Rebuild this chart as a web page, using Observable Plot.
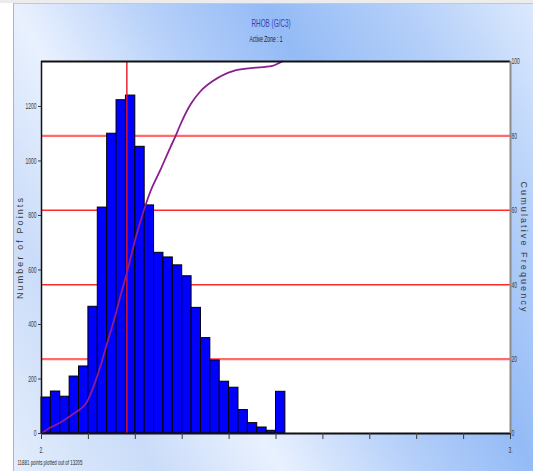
<!DOCTYPE html>
<html>
<head>
<meta charset="utf-8">
<script src="https://cdn.jsdelivr.net/npm/d3@7"></script>
<script src="https://cdn.jsdelivr.net/npm/@observablehq/plot@0.6"></script>
<style>
  body { margin: 0; background: #ffffff; }
  #topstrip { position: absolute; left: 0; top: 0; width: 533px; height: 3px; background: #ececec; }
  #panel {
    position: absolute; left: 13px; top: 3px; width: 520px; height: 468px;
    border-left: 1px solid #a9b6c9; border-top: 1px solid #c4c8cf;
    background: linear-gradient(60deg, #e3edfc 0%, #cadcf9 18%, #e9f1fe 34%, #b3cef9 52%, #94bbf6 66%, #b5d0f9 84%, #dce9fd 100%);
  }
  #chart { position: absolute; left: 0; top: 0; }
</style>
</head>
<body>
<div id="topstrip"></div>
<div id="panel"></div>
<div id="chart"></div>
<script>
// Histogram of bulk density (RHOB), bins of 0.02 g/cc
const binStart = [2.00, 2.02, 2.04, 2.06, 2.08, 2.10, 2.12, 2.14, 2.16, 2.18, 2.20, 2.22, 2.24,
                  2.26, 2.28, 2.30, 2.32, 2.34, 2.36, 2.38, 2.40, 2.42, 2.44, 2.46, 2.48, 2.50];
const BIN_WIDTH = 0.02;
const counts = [132, 154, 135, 209, 246, 465, 829, 1100, 1223, 1240, 1052, 837, 663,
                646, 617, 577, 461, 350, 268, 190, 168, 86, 38, 22, 10, 153];

// Cumulative frequency curve (percent)
const cumX = [2.000, 2.019, 2.041, 2.062, 2.083, 2.094, 2.104, 2.115, 2.126, 2.136, 2.147, 2.158,
              2.168, 2.179, 2.190, 2.200, 2.218, 2.232, 2.254, 2.275, 2.286, 2.296, 2.318, 2.339,
              2.367, 2.410, 2.446, 2.492, 2.508, 2.513];
const cumPct = [0, 1.6, 3.0, 4.8, 6.6, 7.9, 10.4, 14.0, 18.2, 22.6, 27.2, 32.0,
                36.8, 41.8, 47.2, 52.2, 59.9, 65.0, 71.0, 77.0, 80.0, 83.0, 88.5, 92.0,
                94.9, 97.5, 98.2, 98.8, 99.7, 100];

// Reference value marker and gridlines
const markerX = [2.182];
const pctGrid = [20, 40, 60, 80];

// Axis ticks
const countTicks = [0, 200, 400, 600, 800, 1000, 1200];
const pctTicks = [0, 20, 40, 60, 80, 100];
const xTicks = [2.0, 2.1, 2.2, 2.3, 2.4, 2.5, 2.6, 2.7, 2.8, 2.9, 3.0];
const xTickLabels = {2: "2.", 3: "3."};

const titleText = "RHOB (G/C3)";
const subtitleText = "Active Zone : 1";
const captionText = "11881 points plotted out of 13205";
const leftLabel = "Number of Points";
const rightLabel = "Cumulative Frequency";

const YMAX = 1365;
const pctToCount = p => p / 100 * YMAX;

const bins = binStart.map((x0, i) => ({x1: x0, x2: x0 + BIN_WIDTH, n: counts[i]}));
const curve = cumX.map((x, i) => ({x, y: pctToCount(cumPct[i])}));

const svg = Plot.plot({
  width: 533,
  height: 471,
  marginLeft: 41,
  marginRight: 23,
  marginTop: 61,
  marginBottom: 38,
  x: {domain: [2, 3]},
  y: {domain: [0, YMAX]},
  style: {background: "transparent", fontFamily: "Arial, 'Liberation Sans', sans-serif", fontSize: "9px", color: "#3a3a3a"},
  marks: [
    Plot.frame({fill: "white", stroke: null}),
    Plot.ruleY(pctGrid.filter(p => p === 20 || p === 80), {y: pctToCount, stroke: "#ff6a6a", strokeWidth: 2.2}),
    Plot.ruleY(pctGrid.filter(p => p === 40 || p === 60), {y: pctToCount, stroke: "#ff2a2a", strokeWidth: 1.5}),
    Plot.rectY(bins, {x1: "x1", x2: "x2", y: "n", fill: "#0000ff", stroke: "#000000", strokeWidth: 1}),
    Plot.ruleX(markerX, {stroke: "#e5141e", strokeWidth: 1.4}),
    Plot.line(curve, {x: "x", y: "y", stroke: "#8b1d93", strokeWidth: 1.8, curve: "monotone-x"}),
    Plot.ruleY([0], {stroke: "#111111", strokeWidth: 2}),
    Plot.ruleY([YMAX], {stroke: "#111111", strokeWidth: 2}),
    Plot.ruleX([2], {stroke: "#111111", strokeWidth: 1.5}),
    Plot.ruleX([3], {stroke: "#8c8c8c", strokeWidth: 2}),
    Plot.axisY(countTicks, {anchor: "left", tickSize: 3, tickPadding: 2, label: null,
      tickFormat: d => String(d)}),
    Plot.axisY(pctTicks.map(pctToCount), {anchor: "right", tickSize: 0, tickPadding: 1, label: null,
      tickFormat: d => String(Math.round(d / YMAX * 100))}),
    Plot.axisX(xTicks, {anchor: "bottom", tickSize: 6, tickPadding: 7, label: null,
      tickFormat: d => xTickLabels[d] ?? ""}),
    Plot.text([titleText], {frameAnchor: "top", dx: -5, dy: -43, fontSize: 11.5, fill: "#3142b0"}),
    Plot.text([subtitleText], {frameAnchor: "top", dx: -10, dy: -26, fontSize: 9, fill: "#1a1a1a"}),
    Plot.text([captionText], {frameAnchor: "bottom-left", dx: -24, dy: 31, textAnchor: "start", fontSize: 8, fill: "#2a2a2a"}),
    Plot.text([leftLabel], {frameAnchor: "left", dx: -21, rotate: -90, textAnchor: "middle", fontSize: 9, fill: "#3a3a3a"}),
    Plot.text([rightLabel], {frameAnchor: "right", dx: 13, rotate: 90, textAnchor: "middle", fontSize: 9, fill: "#3a3a3a"})
  ]
});

document.getElementById("chart").append(svg);

// Narrow typeface look: compress the horizontal text, space out the rotated titles
svg.querySelectorAll("text").forEach(t => {
  const rotated = (t.getAttribute("transform") || "").includes("rotate");
  if (rotated) {
    t.style.letterSpacing = "2.1px";
    return;
  }
  const len = t.getComputedTextLength();
  if (len > 0) {
    t.setAttribute("textLength", len * 0.55);
    t.setAttribute("lengthAdjust", "spacingAndGlyphs");
  }
});
</script>
</body>
</html>
